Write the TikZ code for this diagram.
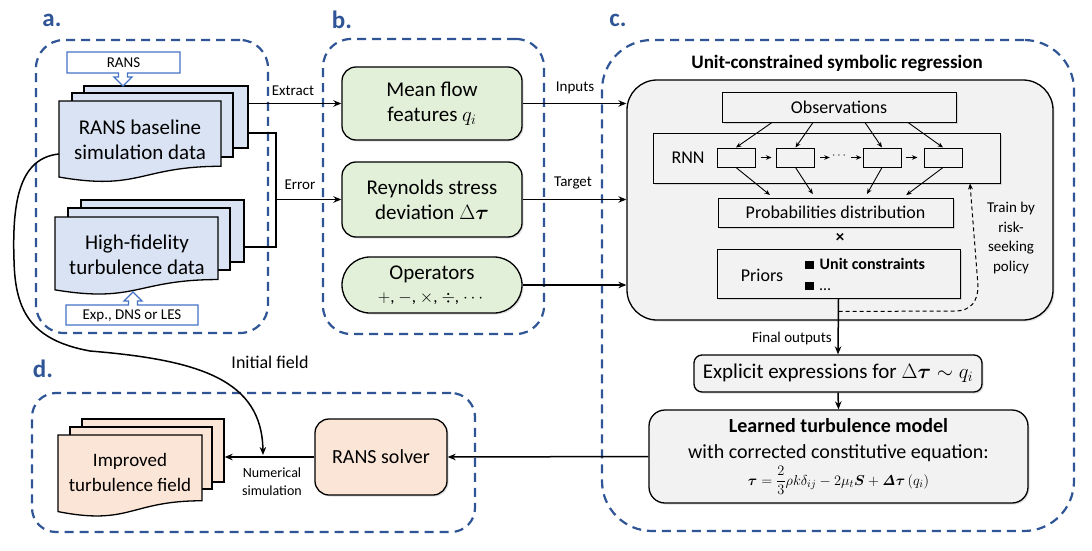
\documentclass[tikz,border=0pt]{standalone}
\usepackage{amsmath,bm}
\usepackage[no-math]{fontspec}
\setmainfont{Carlito}
\usetikzlibrary{arrows.meta,shadows,calc}
\definecolor{pblue}{HTML}{2F5597}
\definecolor{cblue}{HTML}{4472C4}
\definecolor{docblue}{HTML}{DAE3F3}
\definecolor{pgreen}{HTML}{E2F0D9}
\definecolor{porange}{HTML}{FBE5D6}
\definecolor{pgray}{HTML}{F2F2F2}
\newcommand{\fs}[2]{\fontsize{#1}{#2}\selectfont}
\newcommand{\frontdoc}[5]{%
  \pgfmathsetmacro\dxm{(#2+#4)/2}%
  \pgfmathsetmacro\dyr{#3+0.802*#5}%
  \pgfmathsetmacro\dyc{#3+1.1075*#5}%
  \pgfmathsetmacro\dyl{#3+0.934*#5}%
  \draw[#1] (#2,#3) -- (#4,#3) -- (#4,\dyr) .. controls (\dxm,\dyr) and (\dxm,\dyc) .. (#2,\dyl) -- cycle;}
\begin{document}
\begin{tikzpicture}[x=1pt,y=-1pt,
  panel/.style={draw=pblue, line width=2.2pt, dash pattern=on 9pt off 6pt, rounded corners=28pt, inner sep=0},
  plabel/.style={text=pblue, font=\fs{25}{30}\bfseries, inner sep=0},
  sheet/.style={draw, line width=1.3pt, inner sep=0},
  docline/.style={draw, line width=1.3pt},
  callout/.style={draw=cblue, line width=1.4pt, fill=white},
  lbl/.style={font=\fs{15}{18}, inner sep=0},
  shad/.style={drop shadow={opacity=0.25, shadow xshift=1.5pt, shadow yshift=-1.5pt}},
  gbox/.style={draw, line width=1.3pt, fill=pgreen, rounded corners=14pt, minimum width=180pt, align=center, font=\fs{21}{25}, inner sep=2pt, shad},
  ibox/.style={draw, line width=1pt, fill=pgray, inner sep=0, shad},
  cell/.style={draw, line width=1pt, fill=pgray, inner sep=0, minimum width=38pt, minimum height=19pt},
  conn/.style={line width=1.5pt},
  arr/.style={line width=1.5pt, -{Stealth[length=8pt,width=6.5pt]}},
  sarr/.style={line width=0.9pt, -{Stealth[length=5.5pt,width=4.5pt]}},
  darr/.style={line width=1pt, dash pattern=on 4pt off 3pt, -{Stealth[length=6pt,width=5pt]}}
]
\fill[white] (0,0) rectangle (1092,551);
\useasboundingbox (0,0) rectangle (1092,551);

% panels
\node[panel, minimum width=232pt, minimum height=293pt] (pa) at (152,186.5) {};
\node[panel, minimum width=221pt, minimum height=295pt] (pb) at (433.5,186.5) {};
\node[panel, rounded corners=50pt, minimum width=472pt, minimum height=491pt] (pc) at (838,285.5) {};
\node[panel, rounded corners=24pt, minimum width=443pt, minimum height=139pt] (pd) at (253.5,462.5) {};
\node[plabel] (la) at (52,20) {a.};
\node[plabel] (lb) at (342,20) {b.};
\node[plabel] (lc) at (618,20) {c.};
\node[plabel] (ld) at (43,369) {d.};

% panel a: RANS stack
\node[sheet, fill=docblue, minimum width=164pt, minimum height=62pt] (rans3) at (166,117) {};
\node[sheet, fill=docblue, minimum width=161pt, minimum height=64pt] (rans2) at (152.5,125) {};
\frontdoc{docline, fill=docblue}{59}{101}{221}{81.4}
\node[align=center, font=\fs{21}{25}, inner sep=0] (ranstxt) at (140,140) {RANS baseline\\simulation data};
\coordinate (ransleft) at (59,154);
% HF stack
\node[sheet, fill=docblue, minimum width=163pt, minimum height=62pt] (hf3) at (162.5,231) {};
\node[sheet, fill=docblue, minimum width=162pt, minimum height=62pt] (hf2) at (149,239) {};
\frontdoc{docline, fill=docblue}{55}{217}{218}{78}
\node[align=center, font=\fs{21}{25}, inner sep=0] (hftxt) at (137,255) {High-fidelity\\turbulence data};
% callouts
\draw[callout] (67,52) -- (180,52) -- (180,73) -- (127.5,73) -- (127.5,77) -- (132,77) -- (123,86) -- (114,77) -- (118.5,77) -- (118.5,73) -- (67,73) -- cycle;
\node[lbl] (ransc) at (123.5,62.5) {RANS};
\draw[callout] (66,325) -- (198,325) -- (198,305) -- (137.5,305) -- (137.5,301) -- (142,301) -- (133,292) -- (124,301) -- (128.5,301) -- (128.5,305) -- (66,305) -- cycle;
\node[lbl] (expc) at (132,315.5) {Exp., DNS or LES};

% panel b
\node[gbox, minimum height=73pt] (mean) at (432,103.5) {Mean flow\\features $q_i$};
\node[gbox, minimum height=75pt] (rey) at (432,199.5) {Reynolds stress\\deviation $\Delta\bm{\tau}$};
\node[gbox, rounded corners=28pt, minimum height=56pt, font=\fs{21}{23}] (ops) at (432,285) {Operators\\{\fs{17}{20}$+$, $-$, $\times$, $\div$, $\cdots$}};

% a -> b connectors
\draw[arr] (rans3.east |- mean.west) -- (mean.west);
\node[lbl] (lext) at (293,91) {Extract};
\coordinate (errbus) at (276,199.5);
\draw[conn] ([yshift=-16pt]rans3.east) -| (errbus) |- ([yshift=-16pt]hf3.east);
\draw[arr] (errbus) -- (rey.west);
\node[lbl] (lerr) at (300,185) {Error};

% panel c
\node[font=\fs{19}{22}\bfseries, inner sep=0] (ctitle) at (837,63) {Unit-constrained symbolic regression};
\node[draw, line width=1.3pt, fill=pgray, rounded corners=30pt, minimum width=426pt, minimum height=240pt, shad] (cbox) at (840,200) {};
\draw[arr] (mean.east) -- (mean.east -| cbox.west);
\node[lbl] (linp) at (575,88) {Inputs};
\draw[arr] (rey.east) -- (rey.east -| cbox.west);
\node[lbl] (ltar) at (573,183) {Target};
\draw[arr] (ops.east) -- (ops.east -| cbox.west);

\node[ibox, minimum width=234pt, minimum height=30pt, font=\fs{18}{21}] (obs) at (839,107) {Observations};
\node[ibox, minimum width=347pt, minimum height=50pt] (rnn) at (826.5,158) {};
\node[font=\fs{18}{21}, inner sep=0] (rnnlbl) at (688,158) {RNN};
\node[cell] (c1) at (736,157.5) {};
\node[cell] (c2) at (795.5,157.5) {};
\node[cell] (c3) at (882,157.5) {};
\node[cell] (c4) at (943,157.5) {};
\node[inner sep=1pt, font=\fs{12}{14}] (dots) at (840,156) {$\cdots$};
\draw[sarr, shorten <=5pt, shorten >=4.5pt] (c1.east) -- (c2.west);
\draw[sarr, shorten <=5pt, shorten >=1pt] (c2.east) -- (dots.west |- c2.east);
\draw[sarr, shorten <=2pt, shorten >=1pt] (dots.east |- c3.west) -- (c3.west);
\draw[sarr, shorten <=4pt, shorten >=6pt] (c3.east) -- (c4.west);
\draw[sarr] ([xshift=-67pt]obs.south) -- (c1.north);
\draw[sarr] ([xshift=-26pt]obs.south) -- (c2.north);
\draw[sarr] ([xshift=26pt]obs.south) -- (c3.north);
\draw[sarr] ([xshift=69pt]obs.south) -- (c4.north);
\node[ibox, minimum width=235pt, minimum height=29pt, font=\fs{18}{21}] (prob) at (835.5,212.5) {Probabilities distribution};
\draw[sarr, shorten >=4pt] (c1.south) -- ([xshift=-62.5pt]prob.north);
\draw[sarr, shorten >=4pt] (c2.south) -- ([xshift=-20.5pt]prob.north);
\draw[sarr, shorten >=4pt] (c3.south) -- ([xshift=29.5pt]prob.north);
\draw[sarr, shorten >=4pt] (c4.south) -- ([xshift=67.5pt]prob.north);
\node[font=\fs{17}{20}\bfseries, inner sep=0] (times) at (840,238) {×};
\node[ibox, minimum width=243pt, minimum height=49pt] (priors) at (838.5,273.5) {};
\node[font=\fs{18}{21}, inner sep=0] (priorslbl) at (762,275) {Priors};
\node[anchor=west, align=left, font=\fs{16}{21}, inner sep=0] (plist) at (805,274.5) {\raisebox{0.5pt}{\rule{8.5pt}{8.5pt}}\hspace{6pt}\textbf{Unit constraints}\\\raisebox{0.5pt}{\rule{8.5pt}{8.5pt}}\hspace{6pt}…};
\node[align=center, font=\fs{15}{19.5}, inner sep=0] (train) at (1011,238) {Train by\\risk-\\seeking\\policy};

\node[draw, line width=1.3pt, fill=pgray, rounded corners=8pt, minimum width=288pt, minimum height=37pt, font=\fs{21}{24}, shad] (expl) at (838,373.5) {Explicit expressions for $\Delta\bm{\tau}\sim q_i$};
\coordinate (split) at ([yshift=-13pt]priors.south);
\draw[arr] (priors.south) -- (expl.north);
\draw[darr] (split) -- (955,311) .. controls (971,311) and (978,301) .. (978,286) -- ([xshift=143.5pt]rnn.south);
\node[lbl, anchor=east] (lfin) at (832,338) {Final outputs};

\node[draw, line width=1.3pt, fill=pgray, rounded corners=16pt, minimum width=379pt, minimum height=93pt, align=center, font=\fs{20}{26}, shad] (learned) at (838.5,456.5) {\textbf{Learned turbulence model}\\with corrected constitutive equation:\\[1pt]{\fs{15}{18}$\bm{\tau}=\dfrac{2}{3}\rho k\delta_{ij}-2\mu_t\bm{S}+\bm{\mathit{\Delta}\tau}\left(q_i\right)$}};
\draw[arr] (expl.south) -- (learned.north);

% panel d
\node[draw, line width=1.3pt, fill=porange, rounded corners=14pt, minimum width=132pt, minimum height=76pt, font=\fs{20}{24}, shad] (solver) at (381,457) {RANS solver};
\node[sheet, fill=porange, minimum width=142pt, minimum height=63pt] (imp3) at (153,450.5) {};
\node[sheet, fill=porange, minimum width=142pt, minimum height=62pt] (imp2) at (141,458) {};
\frontdoc{docline, fill=porange}{58}{435}{202}{82}
\node[align=center, font=\fs{19}{25}, inner sep=0] (imptxt) at (130,472) {Improved\\turbulence field};
\draw[arr] (learned.west) -- (solver.east);
\draw[arr] (solver.west) -- (solver.west -| imp3.east);
\node[align=center, font=\fs{14}{18}, inner sep=0] (lnum) at (272,482) {Numerical\\simulation};

% initial field
\coordinate (initend) at (263,455);
\draw[arr] (ransleft) .. controls (20,158) and (12,200) .. (14,260) .. controls (15,310) and (30,340) .. (90,351) .. controls (200,360) and (262,380) .. (initend);
\node[font=\fs{18}{21}, inner sep=0] (linit) at (270,362) {Initial field};
\end{tikzpicture}
\end{document}
